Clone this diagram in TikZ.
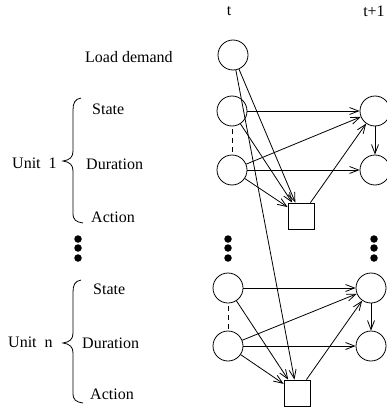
\documentclass[tikz,border=0pt]{standalone}
\usepackage{fontspec}
\setmainfont{Liberation Serif}
\usetikzlibrary{arrows.meta}
\begin{document}
\begin{tikzpicture}[x=1pt,y=-1pt,
  every node/.style={font=\fontsize{16}{19}\selectfont},
  var/.style={draw,circle,minimum size=30pt,inner sep=0pt,line width=0.8pt},
  act/.style={draw,rectangle,minimum size=26pt,inner sep=0pt,line width=0.8pt},
  lab/.style={anchor=west,inner sep=0pt},
  dot/.style={fill,circle,inner sep=0pt,minimum size=7.5pt},
  arr/.style={line width=0.8pt,-{Straight Barb[length=9pt,width=7pt,line width=0.8pt]}},
  dep/.style={line width=0.8pt,dash pattern=on 5pt off 4pt,dash phase=-3pt},
  brc/.style={line width=0.8pt}]
\useasboundingbox (0,0) rectangle (386,412);
% time labels
\node (tt) at (229,11) {t};
\node (tt1) at (374,11) {t+1};
% row labels
\node[lab] (ld) at (85,57) {Load demand};
\node[lab] (st1) at (92,109) {State};
\node[lab] (du1) at (86,164) {Duration};
\node[lab] (ac1) at (91,217) {Action};
\node[lab] (u1) at (12,163) {Unit\ \ 1};
\node[lab] (stn) at (93,289) {State};
\node[lab] (dun) at (82,343) {Duration};
\node[lab] (acn) at (90,394) {Action};
\node[lab] (un) at (8,342) {Unit\ \ n};
% braces
\draw[brc] (81,98) .. controls (75,99) and (73,103) .. (73,110) -- (73,151)
  .. controls (73,157) and (70,160) .. (63,161) .. controls (70,162) and (73,165) .. (73,171)
  -- (73,213) .. controls (73,220) and (76,222) .. (83,223);
\draw[brc] (81,280) .. controls (75,281) and (73,285) .. (73,292) -- (73,333)
  .. controls (73,339) and (70,342) .. (63,343) .. controls (70,344) and (73,347) .. (73,353)
  -- (73,393) .. controls (73,400) and (76,402) .. (83,403);
% nodes, slice t
\node[var] (L) at (233,55) {};
\node[var] (s1a) at (232,111) {};
\node[var] (d1a) at (232,170) {};
\node[act] (a1) at (301,216) {};
\node[var] (sna) at (228,288) {};
\node[var] (dna) at (228,346) {};
\node[act] (an) at (297,393) {};
% nodes, slice t+1
\node[var] (s1b) at (375,111) {};
\node[var] (d1b) at (375,170) {};
\node[var] (snb) at (371,288) {};
\node[var] (dnb) at (371,346) {};
% dots
\foreach \i/\y in {1/239,2/248,3/258}{
  \node[dot] (dl\i) at (78,\y) {};
  \node[dot] (dm\i) at (228,\y) {};
  \node[dot] (dr\i) at (374,\y) {};
}
% dashed links
\draw[dep] (s1a) -- (d1a);
\draw[dep] (sna) -- (dna);
% unit 1 arcs
\draw[arr] (L) -- (a1);
\draw[arr] (L) -- (an);
\draw[arr] (s1a) -- (s1b);
\draw[arr] (s1a) -- (a1);
\draw[arr] (d1a) -- (s1b);
\draw[arr] (d1a) -- (d1b);
\draw[arr] (d1a) -- (a1);
\draw[arr] (a1) -- (s1b);
\draw[arr] (s1b) -- (d1b);
% unit n arcs
\draw[arr] (sna) -- (snb);
\draw[arr] (sna) -- (an);
\draw[arr] (dna) -- (snb);
\draw[arr] (dna) -- (dnb);
\draw[arr] (dna) -- (an);
\draw[arr] (an) -- (snb);
\draw[arr] (snb) -- (dnb);
\end{tikzpicture}
\end{document}
